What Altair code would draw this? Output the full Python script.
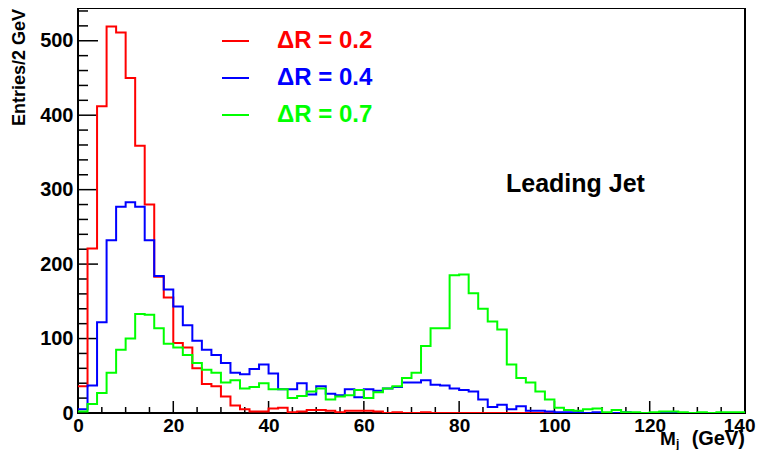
import altair as alt
import pandas as pd

# ---- data (entries per 2 GeV bin, bins 0-2, 2-4, ..., 138-140) ----
bin_edges_start = list(range(0, 140, 2))
red_dr02 = [36, 221, 412, 519, 511, 450, 359, 280, 183, 155,
            94, 88, 60, 39, 36, 22, 10, 5, 2, 2,
            6, 7, 1, 2, 4, 4, 3, 1, 3, 3,
            3, 2, 0, 1, 0, 0, 1, 0, 0, 0,
            0, 0, 0, 0, 0, 0, 0, 0, 0, 0,
            0, 0, 0, 0, 0, 0, 0, 0, 0, 0,
            0, 0, 0, 0, 0, 0, 0, 0, 0, 0]
blue_dr04 = [5, 37, 122, 232, 277, 283, 277, 232, 184, 166,
             143, 118, 97, 85, 78, 67, 54, 52, 59, 65,
             53, 32, 32, 40, 25, 36, 26, 24, 32, 21,
             32, 30, 33, 35, 41, 41, 44, 38, 37, 33,
             31, 29, 18, 8, 11, 5, 9, 3, 3, 2,
             1, 1, 1, 0, 1, 0, 0, 1, 0, 0,
             0, 1, 0, 0, 0, 0, 0, 0, 0, 0]
green_dr07 = [2, 12, 27, 54, 85, 100, 133, 132, 114, 93,
              88, 78, 67, 58, 54, 41, 44, 33, 35, 40,
              32, 32, 20, 23, 29, 33, 18, 22, 24, 31,
              20, 28, 33, 36, 47, 54, 90, 114, 114, 185,
              186, 161, 140, 123, 112, 65, 47, 41, 29, 18,
              7, 4, 3, 5, 6, 1, 4, 1, 1, 0,
              1, 2, 2, 1, 0, 1, 0, 1, 1, 1]
series_labels = ["\u0394R = 0.2", "\u0394R = 0.4", "\u0394R = 0.7"]
series_colors = ["#ff0000", "#0000ff", "#00ff00"]
x_major = [0, 20, 40, 60, 80, 100, 120, 140]
x_minor = list(range(5, 140, 5))
y_major = [0, 100, 200, 300, 400, 500]
y_minor = list(range(20, 541, 20))

W, H = 667, 405
X_MAX, Y_MAX = 140, 544
FONT = "Liberation Sans"

xscale = alt.Scale(domain=[0, X_MAX], nice=False, zero=False)
yscale = alt.Scale(domain=[0, Y_MAX], nice=False, zero=True)

def hist_df(vals):
    xs = bin_edges_start + [X_MAX]
    ys = list(vals) + [vals[-1]]
    return pd.DataFrame({"x": xs, "y": ys})

layers = []

# axes with labels only (ticks drawn inside frame below)
base_axes = alt.Chart(pd.DataFrame({"x": [0], "y": [0]})).mark_point(opacity=0).encode(
    x=alt.X("x:Q", scale=xscale,
            axis=alt.Axis(values=x_major, ticks=False, domain=False, grid=False, title=None,
                          labelFont=FONT, labelFontSize=19, labelFontWeight="bold",
                          labelColor="black", labelPadding=3, labelFlush=False,
                          labelOverlap=False, format="d",
                          labelAlign=alt.expr("datum.value == 140 ? 'right' : 'center'"),
                          labelOffset=alt.expr("datum.value == 140 ? 10 : 0"))),
    y=alt.Y("y:Q", scale=yscale,
            axis=alt.Axis(values=y_major, ticks=False, domain=False, grid=False, title=None,
                          labelFont=FONT, labelFontSize=20, labelFontWeight="bold",
                          labelColor="black", labelPadding=5, labelFlush=False,
                          labelOverlap=False, format="d")),
)
layers.append(base_axes)

# inward ticks
xt_major = alt.Chart(pd.DataFrame({"x": x_major[1:-1]})).mark_rule(color="black", strokeWidth=1.5).encode(
    x=alt.X("x:Q", scale=xscale), y=alt.value(H), y2=alt.value(H - 12))
xt_minor = alt.Chart(pd.DataFrame({"x": [v for v in x_minor if v % 20 != 0]})).mark_rule(color="black", strokeWidth=1.5).encode(
    x=alt.X("x:Q", scale=xscale), y=alt.value(H), y2=alt.value(H - 6))
yt_major = alt.Chart(pd.DataFrame({"y": y_major[1:]})).mark_rule(color="black", strokeWidth=1.5).encode(
    y=alt.Y("y:Q", scale=yscale), x=alt.value(0), x2=alt.value(20))
yt_minor = alt.Chart(pd.DataFrame({"y": [v for v in y_minor if v % 100 != 0]})).mark_rule(color="black", strokeWidth=1.5).encode(
    y=alt.Y("y:Q", scale=yscale), x=alt.value(0), x2=alt.value(10))
layers += [xt_major, xt_minor, yt_major, yt_minor]

# histograms
for vals, col in zip([red_dr02, blue_dr04, green_dr07], series_colors):
    layers.append(
        alt.Chart(hist_df(vals)).mark_line(interpolate="step-after", color=col, strokeWidth=2, clip=True).encode(
            x=alt.X("x:Q", scale=xscale), y=alt.Y("y:Q", scale=yscale))
    )

# legend
leg_y = [33, 70, 107]
for lab, col, ly in zip(series_labels, series_colors, leg_y):
    layers.append(alt.Chart(pd.DataFrame({"t": [lab]})).mark_rule(color=col, strokeWidth=2).encode(
        x=alt.value(144), x2=alt.value(171), y=alt.value(ly)))
    layers.append(alt.Chart(pd.DataFrame({"t": [lab]})).mark_text(
        color=col, font=FONT, fontSize=24, fontWeight="bold", align="left", baseline="middle").encode(
        x=alt.value(199), y=alt.value(ly), text="t:N"))

# annotation
layers.append(alt.Chart(pd.DataFrame({"t": ["Leading Jet"]})).mark_text(
    color="black", font=FONT, fontSize=25, fontWeight="bold", align="left", baseline="middle").encode(
    x=alt.value(428), y=alt.value(176), text="t:N"))

# axis titles
layers.append(alt.Chart(pd.DataFrame({"t": ["Entries/2 GeV"]})).mark_text(
    color="black", font=FONT, fontSize=18, fontWeight="bold", angle=270, align="right", baseline="middle").encode(
    x=alt.value(-58), y=alt.value(1), text="t:N"))
layers.append(alt.Chart(pd.DataFrame({"t": ["M"]})).mark_text(
    color="black", font=FONT, fontSize=19, fontWeight="bold", align="left", baseline="alphabetic").encode(
    x=alt.value(582), y=alt.value(437), text="t:N"))
layers.append(alt.Chart(pd.DataFrame({"t": ["j"]})).mark_text(
    color="black", font=FONT, fontSize=12, fontWeight="bold", align="left", baseline="alphabetic").encode(
    x=alt.value(598), y=alt.value(440), text="t:N"))
layers.append(alt.Chart(pd.DataFrame({"t": ["(GeV)"]})).mark_text(
    color="black", font=FONT, fontSize=20, fontWeight="bold", align="right", baseline="alphabetic").encode(
    x=alt.value(667), y=alt.value(437), text="t:N"))

chart = alt.layer(*layers).properties(
    width=W, height=H,
    autosize=alt.AutoSizeParams(type="none"),
    padding={"left": 70, "top": 0, "right": 11, "bottom": 37},
    background="white",
).configure_view(stroke="black", strokeWidth=2)

chart.save("out.html", embed_options={"renderer": "svg", "actions": False})
